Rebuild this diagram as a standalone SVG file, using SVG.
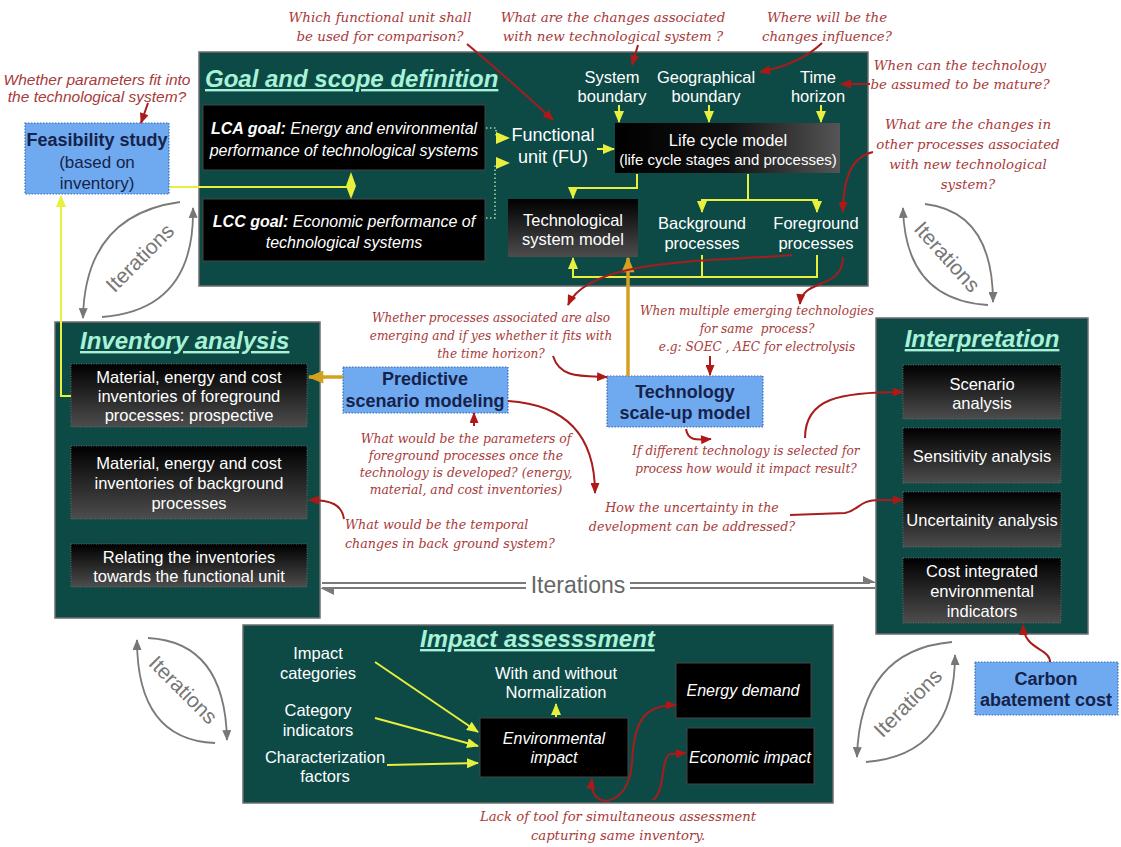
<svg xmlns="http://www.w3.org/2000/svg" width="1121" height="847" viewBox="0 0 1121 847">
<defs>
<linearGradient id="gv" x1="0" y1="0" x2="0" y2="1"><stop offset="0" stop-color="#000"/><stop offset="1" stop-color="#4d4d4d"/></linearGradient>
<linearGradient id="gh" x1="0" y1="0" x2="1" y2="0"><stop offset="0" stop-color="#000"/><stop offset="0.5" stop-color="#111"/><stop offset="1" stop-color="#555"/></linearGradient>
<marker id="ay" viewBox="0 0 12 10" refX="11" refY="5" markerWidth="12" markerHeight="10" markerUnits="userSpaceOnUse" orient="auto-start-reverse"><path d="M0,0 L12,5 L0,10 Z" fill="#e8ef3c"/></marker>
<marker id="ar" viewBox="0 0 12 10" refX="11" refY="5" markerWidth="12" markerHeight="9" markerUnits="userSpaceOnUse" orient="auto-start-reverse"><path d="M0,0 L12,5 L0,10 Z" fill="#b01818"/></marker>
<marker id="ag" viewBox="0 0 12 10" refX="11" refY="5" markerWidth="16" markerHeight="13" markerUnits="userSpaceOnUse" orient="auto-start-reverse"><path d="M0,0 L12,5 L0,10 Z" fill="#d4a020"/></marker>
<marker id="aa" viewBox="0 0 12 10" refX="11" refY="5" markerWidth="11" markerHeight="9" markerUnits="userSpaceOnUse" orient="auto-start-reverse"><path d="M0,0 L12,5 L0,10 Z" fill="#777"/></marker>
</defs>
<style>
.panel{fill:#0d4a46;stroke:#6e6e6e;stroke-width:1.5}
.title{font-family:"Liberation Sans",Arial,sans-serif;font-weight:bold;font-style:italic;font-size:24px;fill:#a8f2d8;text-decoration:underline}
.w{font-family:"Liberation Sans",Arial,sans-serif;font-size:16.5px;fill:#fff;text-anchor:middle}
.wi{font-family:"Liberation Sans",Arial,sans-serif;font-size:16px;font-style:italic;fill:#fff;text-anchor:middle}
.q{font-family:"DejaVu Serif",serif;font-style:italic;font-size:13.4px;fill:#a83a3a;text-anchor:middle}
.qm{font-family:"DejaVu Serif",serif;font-style:italic;font-size:12.1px;fill:#a83a3a;text-anchor:middle}
.qs{font-family:"Liberation Sans",Arial,sans-serif;font-style:italic;font-size:15.5px;fill:#a83a3a;text-anchor:middle}
.blue{fill:#6faaf0;stroke:#3a6fb8;stroke-width:1.2;stroke-dasharray:1.5 1.5}
.bt{font-family:"Liberation Sans",Arial,sans-serif;font-weight:bold;font-size:18px;fill:#16224a;text-anchor:middle}
.bn{font-family:"Liberation Sans",Arial,sans-serif;font-size:17px;fill:#16224a;text-anchor:middle}
.sub{fill:url(#gv);stroke:#666;stroke-width:1;stroke-dasharray:1 1.5}
.blk{fill:#000;stroke:#444;stroke-width:1}
.y{stroke:#e8ef3c;stroke-width:2;fill:none}
.dot{stroke:#9ed89a;stroke-width:1.6;stroke-dasharray:1.5 2.5;fill:none}
.r{stroke:#a81c1c;stroke-width:2;fill:none}
.g{stroke:#d4a020;stroke-width:3.5;fill:none}
.arc{stroke:#7a7a7a;stroke-width:1.8;fill:none}
.it{font-family:"Liberation Sans",Arial,sans-serif;font-size:21px;fill:#777;text-anchor:middle}
</style>
<rect width="1121" height="847" fill="#fff"/>

<g id="goal-scope">
<rect class="panel" x="199" y="52" width="669" height="234"/>
<text class="title" x="205" y="87">Goal and scope definition</text>
<rect class="blk" x="203" y="105" width="282" height="65"/>
<text class="wi" x="344" y="134"><tspan font-weight="bold">LCA goal:</tspan> Energy and environmental</text>
<text class="wi" x="344" y="156">performance of technological systems</text>
<rect class="blk" x="203" y="199" width="282" height="62"/>
<text class="wi" x="344" y="227"><tspan font-weight="bold">LCC goal:</tspan> Economic performance of</text>
<text class="wi" x="344" y="248">technological systems</text>
<text class="w" x="553" y="141" style="font-size:18px">Functional</text>
<text class="w" x="553" y="163" style="font-size:18px">unit (FU)</text>
<text class="w" x="612" y="83">System</text>
<text class="w" x="612" y="102">boundary</text>
<text class="w" x="706" y="83">Geographical</text>
<text class="w" x="706" y="102">boundary</text>
<text class="w" x="818" y="83">Time</text>
<text class="w" x="818" y="102">horizon</text>
<rect x="615" y="123" width="225" height="50" fill="url(#gh)"/>
<text class="w" x="728" y="146">Life cycle model</text>
<text class="w" x="728" y="165" style="font-size:15px">(life cycle stages and processes)</text>
<rect x="508" y="199" width="130" height="58" fill="url(#gv)"/>
<text class="w" x="573" y="226">Technological</text>
<text class="w" x="573" y="245">system model</text>
<text class="w" x="702" y="229">Background</text>
<text class="w" x="702" y="249">processes</text>
<text class="w" x="816" y="229">Foreground</text>
<text class="w" x="816" y="249">processes</text>
</g>

<g id="feasibility">
<rect class="blue" x="25" y="123" width="144" height="71"/>
<text class="bt" x="97" y="146">Feasibility study</text>
<text class="bn" x="97" y="168">(based on</text>
<text class="bn" x="97" y="189">inventory)</text>
</g>

<g id="inventory">
<rect class="panel" x="55" y="322" width="265" height="296"/>
<text class="title" x="80" y="349">Inventory analysis</text>
<rect class="sub" x="71" y="364" width="236" height="63"/>
<text class="w" x="189" y="383">Material, energy and cost</text>
<text class="w" x="189" y="402">inventories of foreground</text>
<text class="w" x="189" y="421">processes: prospective</text>
<rect class="sub" x="71" y="446" width="236" height="73"/>
<text class="w" x="189" y="469">Material, energy and cost</text>
<text class="w" x="189" y="489">inventories of background</text>
<text class="w" x="189" y="509">processes</text>
<rect class="sub" x="71" y="544" width="236" height="43"/>
<text class="w" x="189" y="563">Relating the inventories</text>
<text class="w" x="189" y="582">towards the functional unit</text>
</g>

<g id="predictive">
<rect class="blue" x="343" y="367" width="165" height="46"/>
<text class="bt" x="425" y="385">Predictive</text>
<text class="bt" x="425" y="407">scenario modeling</text>
</g>

<g id="scaleup">
<rect class="blue" x="607" y="376" width="156" height="51"/>
<text class="bt" x="685" y="398">Technology</text>
<text class="bt" x="685" y="419">scale-up model</text>
</g>

<g id="interpretation">
<rect class="panel" x="876" y="318" width="212" height="316"/>
<text class="title" x="982" y="347" text-anchor="middle">Interpretation</text>
<rect class="sub" x="903" y="365" width="158" height="54"/>
<text class="w" x="982" y="390">Scenario</text>
<text class="w" x="982" y="409">analysis</text>
<rect class="sub" x="903" y="428" width="158" height="55"/>
<text class="w" x="982" y="462">Sensitivity analysis</text>
<rect class="sub" x="903" y="492" width="158" height="55"/>
<text class="w" x="982" y="526">Uncertainity analysis</text>
<rect class="sub" x="903" y="558" width="158" height="65"/>
<text class="w" x="982" y="577">Cost integrated</text>
<text class="w" x="982" y="597">environmental</text>
<text class="w" x="982" y="617">indicators</text>
</g>

<g id="carbon">
<rect class="blue" x="975" y="662" width="143" height="53"/>
<text class="bt" x="1046" y="685">Carbon</text>
<text class="bt" x="1046" y="706">abatement cost</text>
</g>

<g id="impact">
<rect class="panel" x="243" y="625" width="590" height="178"/>
<text class="title" x="420" y="647">Impact assesssment</text>
<text class="w" x="318" y="659">Impact</text>
<text class="w" x="318" y="679">categories</text>
<text class="w" x="318" y="716">Category</text>
<text class="w" x="318" y="736">indicators</text>
<text class="w" x="325" y="763">Characterization</text>
<text class="w" x="325" y="782">factors</text>
<text class="w" x="556" y="679">With and without</text>
<text class="w" x="556" y="698">Normalization</text>
<rect class="blk" x="480" y="718" width="148" height="59"/>
<text class="wi" x="554" y="744">Environmental</text>
<text class="wi" x="554" y="763">impact</text>
<rect class="blk" x="676" y="663" width="135" height="55"/>
<text class="wi" x="743" y="696">Energy demand</text>
<rect class="blk" x="687" y="728" width="127" height="56"/>
<text class="wi" x="750" y="763">Economic impact</text>
</g>

<g id="questions">
<text class="qs" x="97" y="85">Whether parameters fit into</text>
<text class="qs" x="97" y="102">the technological system?</text>
<text class="q" x="380" y="22">Which functional unit shall</text>
<text class="q" x="380" y="41">be used for comparison?</text>
<text class="q" x="613" y="22">What are the changes associated</text>
<text class="q" x="613" y="41">with new technological system ?</text>
<text class="q" x="827" y="22">Where will be the</text>
<text class="q" x="827" y="41">changes influence?</text>
<text class="q" x="960" y="70">When can the technology</text>
<text class="q" x="960" y="89">be assumed to be mature?</text>
<text class="q" x="968" y="129">What are the changes in</text>
<text class="q" x="968" y="149">other processes associated</text>
<text class="q" x="968" y="169">with new technological</text>
<text class="q" x="968" y="189">system?</text>
<text class="qm" x="491" y="322">Whether processes associated are also</text>
<text class="qm" x="491" y="340">emerging and if yes whether it fits with</text>
<text class="qm" x="491" y="358">the time horizon?</text>
<text class="qm" x="757" y="315">When multiple emerging technologies</text>
<text class="qm" x="757" y="333">for same&#160; process?</text>
<text class="qm" x="757" y="351">e.g: SOEC , AEC for electrolysis</text>
<text class="qm" x="466" y="443" style="font-size:12.4px">What would be the parameters of</text>
<text class="qm" x="466" y="460" style="font-size:12.4px">foreground processes once the</text>
<text class="qm" x="466" y="477" style="font-size:12.4px">technology is developed? (energy,</text>
<text class="qm" x="466" y="494" style="font-size:12.4px">material, and cost inventories)</text>
<text class="qm" x="746" y="455">If different technology is selected for</text>
<text class="qm" x="746" y="473">process how would it impact result?</text>
<text class="qm" x="692" y="512" style="font-size:12.7px">How the uncertainty in the</text>
<text class="qm" x="692" y="531" style="font-size:12.7px">development can be addressed?</text>
<text class="qm" x="345" y="529" style="text-anchor:start;font-size:12.7px">What would be the temporal</text>
<text class="qm" x="345" y="548" style="text-anchor:start;font-size:12.7px">changes in back ground system?</text>
<text class="q" x="618" y="821" style="font-size:13.2px">Lack of tool for simultaneous assessment</text>
<text class="q" x="618" y="840" style="font-size:13.2px">capturing same inventory.</text>
</g>

<g id="iterations">
<path class="arc" d="M180 202 Q85 215 83 318" marker-end="url(#aa)"/>
<path class="arc" d="M102 317 Q195 310 193 208" marker-end="url(#aa)"/>
<text class="it" transform="translate(140 258) rotate(-45)" y="7">Iterations</text>
<path class="arc" d="M925 204 Q993 212 993 302" marker-end="url(#aa)"/>
<path class="arc" d="M988 305 Q905 300 903 208" marker-end="url(#aa)"/>
<text class="it" transform="translate(947 257) rotate(48)" y="7">Iterations</text>
<path class="arc" d="M148 638 Q225 642 227 740" marker-end="url(#aa)"/>
<path class="arc" d="M215 743 Q137 740 137 640" marker-end="url(#aa)"/>
<text class="it" transform="translate(183 690) rotate(45)" y="7">Iterations</text>
<path class="arc" d="M952 642 Q860 650 857 757" marker-end="url(#aa)"/>
<path class="arc" d="M866 762 Q955 755 955 655" marker-end="url(#aa)"/>
<text class="it" transform="translate(908 703) rotate(-45)" y="7">Iterations</text>
<g stroke="#7a7a7a" stroke-width="2" fill="none">
<path d="M322 583 H526 M322 588 H526 M630 583 H870 M630 588 H875"/>
</g>
<path d="M863 576 L877 583 L863 583 Z" fill="#7a7a7a"/>
<path d="M334 595 L320 588 L334 588 Z" fill="#7a7a7a"/>
<text class="it" x="578" y="593" style="font-size:23px;fill:#666">Iterations</text>
</g>

<g id="connectors">
<path class="y" d="M170 187 H351"/>
<path d="M351 172 L356 186 L351 199 L346 186 Z" fill="#e8ef3c"/>
<path class="y" d="M71 396 H61 V196" marker-end="url(#ay)"/>
<path class="dot" d="M486 128 H496 V136"/>
<path d="M496 132 L510 138 L496 144 Z" fill="#e8ef3c"/>
<path class="dot" d="M486 218 H495 V165"/>
<path d="M496 157 L510 163 L496 169 Z" fill="#e8ef3c"/>
<path class="y" d="M597 149 H614" marker-end="url(#ay)"/>
<path class="y" d="M619 105 V122" marker-end="url(#ay)"/>
<path class="y" d="M709 105 V122" marker-end="url(#ay)"/>
<path class="y" d="M821 105 V122" marker-end="url(#ay)"/>
<path class="y" d="M637 174 V188 H573 V198" marker-end="url(#ay)"/>
<path class="y" d="M748 174 V200"/>
<path class="y" d="M702 200 H817"/>
<path class="y" d="M702 199 V212" marker-end="url(#ay)"/>
<path class="y" d="M817 199 V212" marker-end="url(#ay)"/>
<path class="y" d="M702 255 V277 M817 255 V277 M572 277 H818"/>
<path class="y" d="M573 277 V258" marker-end="url(#ay)"/>
<path class="y" d="M375 662 L478 732" marker-end="url(#ay)"/>
<path class="y" d="M375 718 L478 746" marker-end="url(#ay)"/>
<path class="y" d="M387 765 L478 763" marker-end="url(#ay)"/>
<path class="y" d="M556 717 V704" marker-end="url(#ay)"/>
<path class="g" d="M343 377 H309" marker-end="url(#ag)"/>
<path class="g" d="M628 376 V258" marker-end="url(#ag)"/>
<path class="r" d="M148 103 L141 123" marker-end="url(#ar)"/>
<path class="r" d="M467 44 Q510 80 553 120" marker-end="url(#ar)"/>
<path class="r" d="M638 45 L632 65" marker-end="url(#ar)"/>
<path class="r" d="M822 43 Q800 64 760 72" marker-end="url(#ar)"/>
<path class="r" d="M870 84 L841 84" marker-end="url(#ar)"/>
<path class="r" d="M873 152 Q843 158 843 212" marker-end="url(#ar)"/>
<path class="r" d="M792 255 C720 262 590 256 568 305" marker-end="url(#ar)"/>
<path class="r" d="M843 257 C843 290 802 278 800 304" marker-end="url(#ar)"/>
<path class="r" d="M553 356 C560 378 580 376 607 377" marker-end="url(#ar)"/>
<path class="r" d="M710 356 V375" marker-end="url(#ar)"/>
<path class="r" d="M686 429 C688 441 696 440 711 439" marker-end="url(#ar)"/>
<path class="r" d="M805 438 C805 398 840 392 903 392" marker-end="url(#ar)"/>
<path class="r" d="M508 401 C570 405 595 440 595 493" marker-end="url(#ar)"/>
<path class="r" d="M474 426 V413" marker-end="url(#ar)"/>
<path class="r" d="M344 519 C342 505 332 500 309 500" marker-end="url(#ar)"/>
<path class="r" d="M790 515 L845 513 C860 510 858 500 880 500 L903 500" marker-end="url(#ar)"/>
<path class="r" d="M1050 662 C1050 648 1024 650 1023 625" marker-end="url(#ar)"/>
<path class="r" d="M592 779 C588 812 630 808 632 762 C634 716 648 705 676 705" marker-start="url(#ar)" marker-end="url(#ar)"/>
<path class="r" d="M653 800 C666 790 660 760 670 754 L686 753" marker-end="url(#ar)"/>
</g>
</svg>
